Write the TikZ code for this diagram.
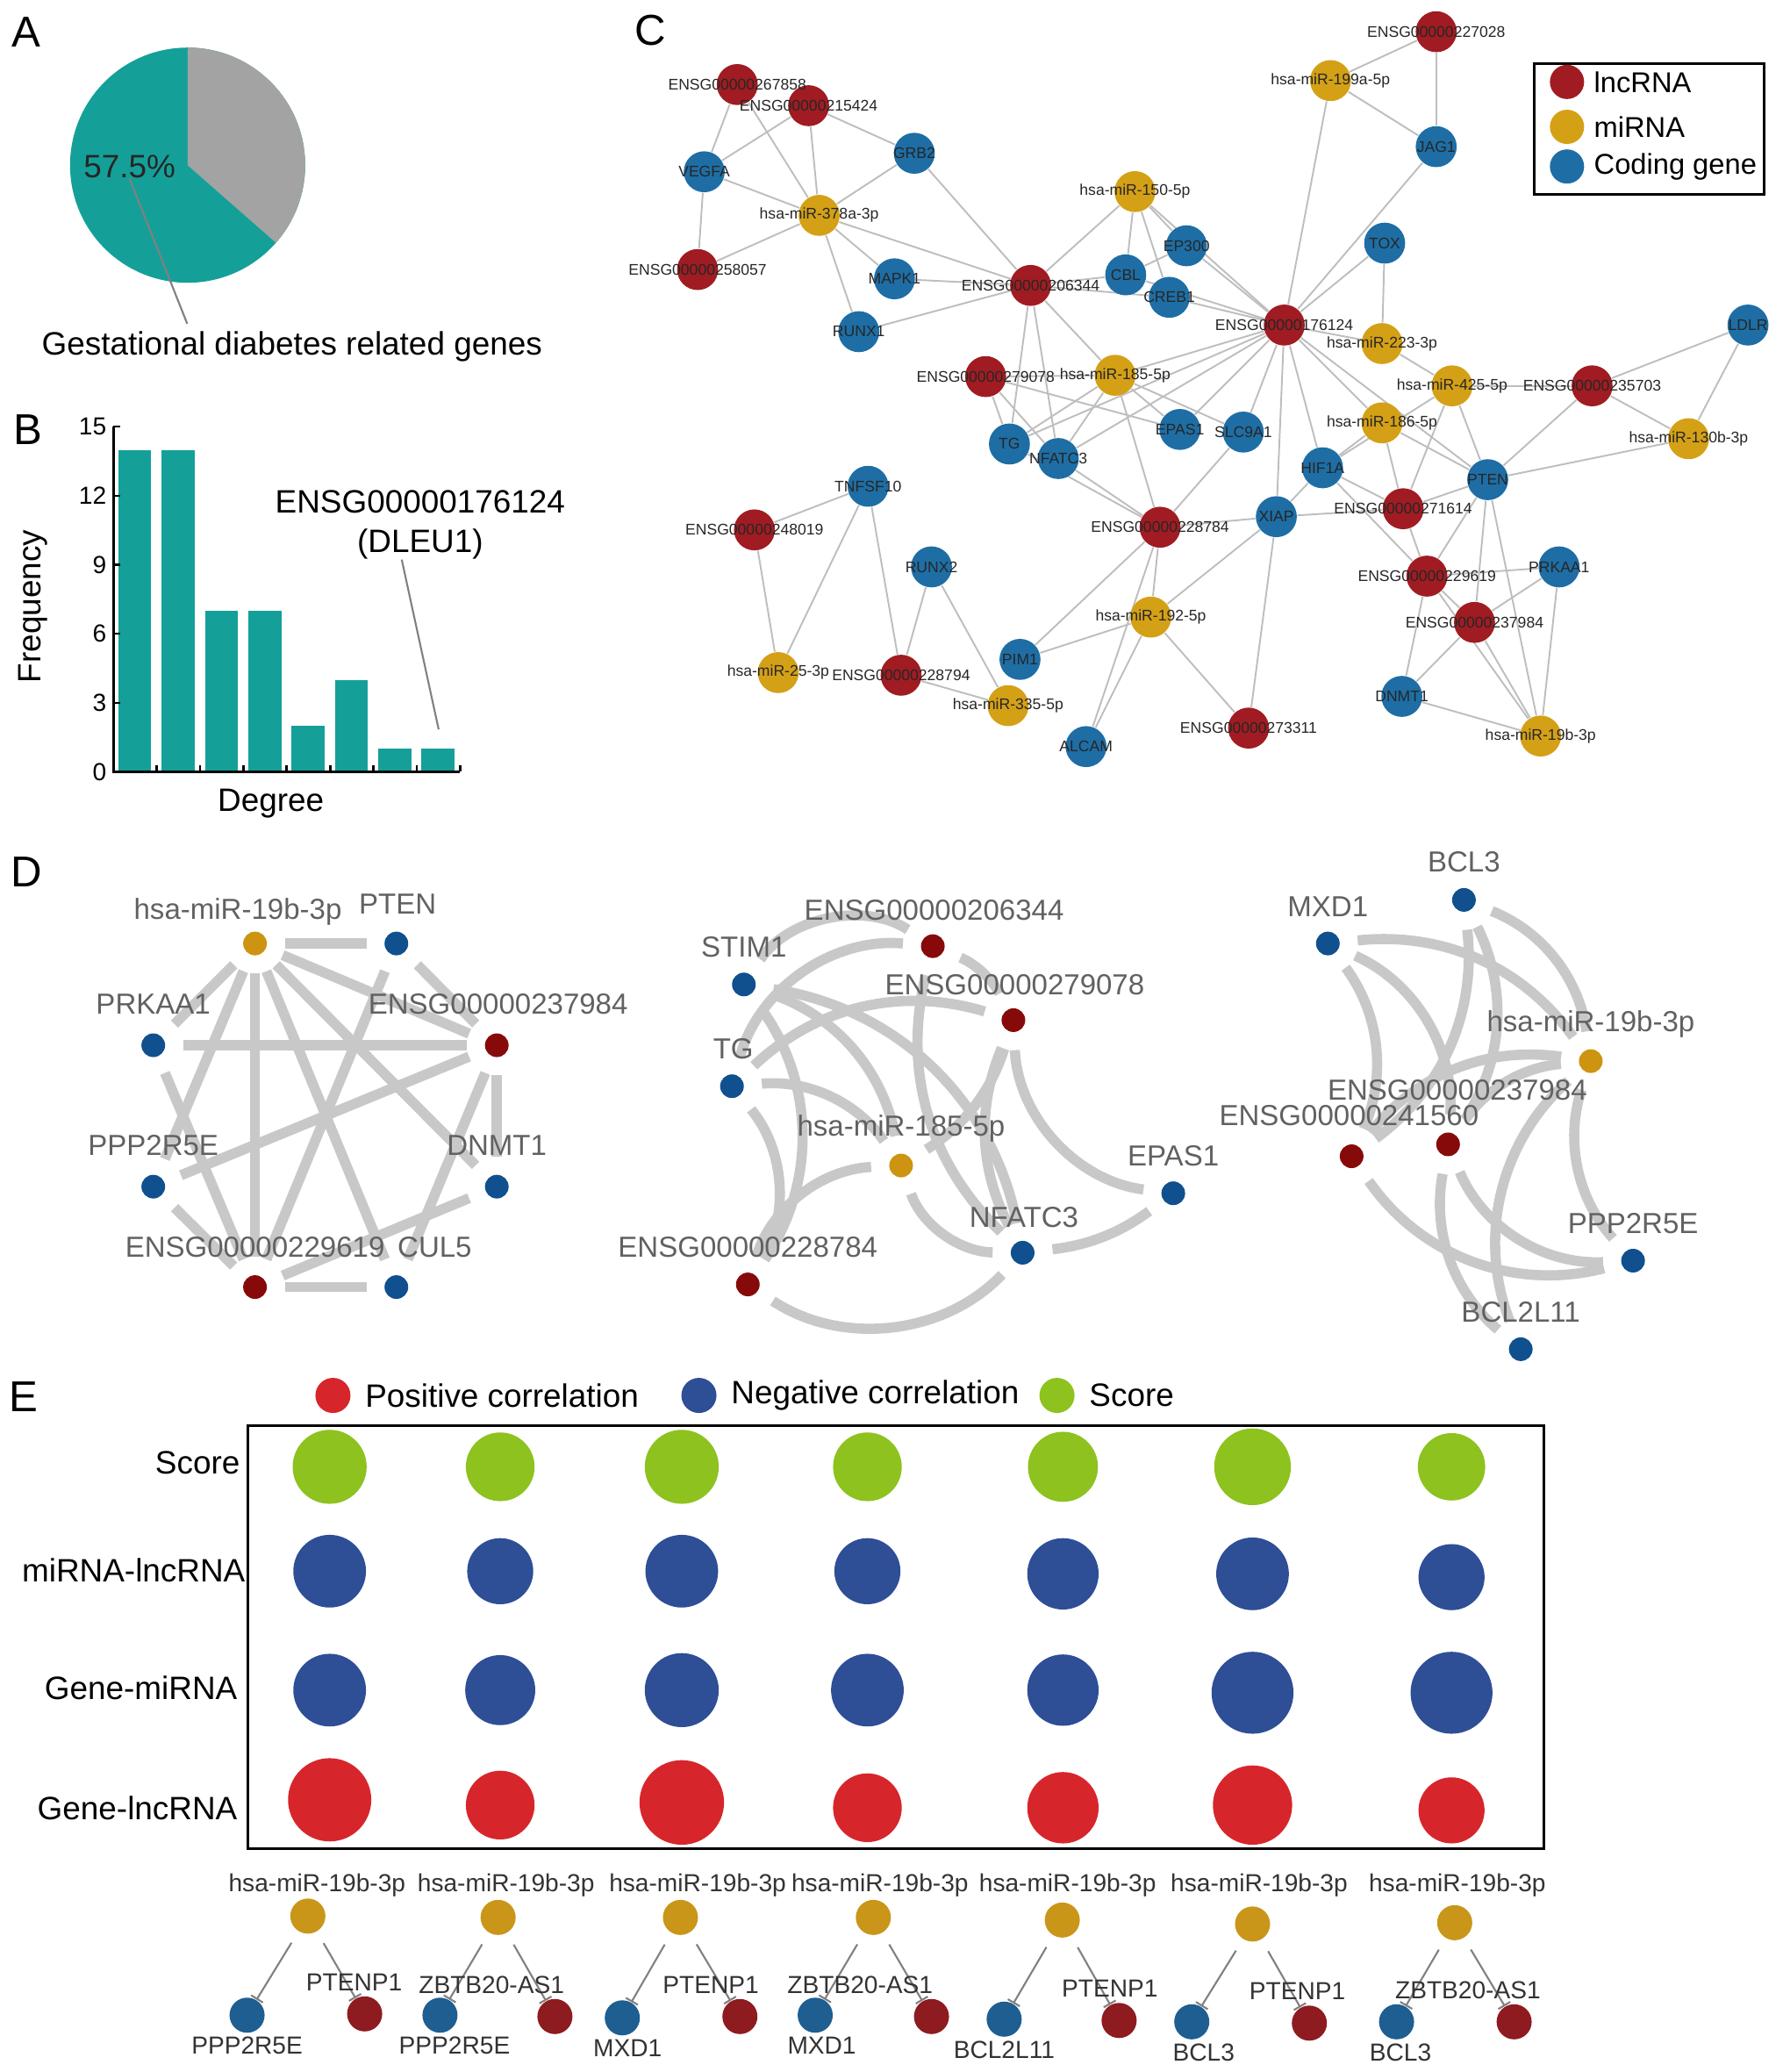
\documentclass[tikz,border=0pt]{standalone}
\usepackage{fontspec}
\setmainfont{Liberation Sans}
\usetikzlibrary{arrows.meta,backgrounds}

\definecolor{tealbar}{HTML}{14A098}
\definecolor{pieGray}{HTML}{A3A3A3}
\definecolor{lncRed}{HTML}{A01C22}
\definecolor{mirGold}{HTML}{D4A016}
\definecolor{geneBlue}{HTML}{1E6EA5}
\definecolor{edgeGray}{HTML}{BEBEBE}
\definecolor{dRed}{HTML}{870A0A}
\definecolor{dGold}{HTML}{CC9410}
\definecolor{dBlue}{HTML}{10508E}
\definecolor{dEdge}{HTML}{C8C8C8}
\definecolor{posRed}{HTML}{D7262B}
\definecolor{negBlue}{HTML}{2E4E96}
\definecolor{scoreGreen}{HTML}{8DC21F}
\definecolor{eGold}{HTML}{C9961A}
\definecolor{eBlue}{HTML}{1E5E91}
\definecolor{eRed}{HTML}{8E1B1F}

\tikzset{
  panel/.style={font=\fontsize{14}{16}\selectfont, inner sep=0pt},
  txt/.style={font=\fontsize{10.5}{12.8}\selectfont, inner sep=0pt},
  ticklab/.style={font=\fontsize{8}{9.6}\selectfont, inner sep=0pt, anchor=east},
  cnode/.style={circle, inner sep=0pt, minimum size=0.467cm},
  clnc/.style={cnode, fill=lncRed},
  cmir/.style={cnode, fill=mirGold},
  cgene/.style={cnode, fill=geneBlue},
  clab/.style={font=\fontsize{5}{6}\selectfont, text=black!85, inner sep=0pt},
  cedge/.style={draw=edgeGray, line width=0.55pt},
  legtxt/.style={font=\fontsize{9.3}{11}\selectfont, anchor=west, inner sep=0pt},
  dnode/.style={circle, inner sep=0pt, minimum size=0.27cm},
  dlnc/.style={dnode, fill=dRed},
  dmir/.style={dnode, fill=dGold},
  dgene/.style={dnode, fill=dBlue},
  dlab/.style={font=\fontsize{9.4}{11}\selectfont, text=black!62, inner sep=0pt},
  dedge/.style={draw=dEdge, line width=3.3pt, shorten <=0.2cm, shorten >=0.2cm},
  enode/.style={circle, inner sep=0pt, minimum size=0.4cm},
  elnc/.style={enode, fill=eRed},
  emir/.style={enode, fill=eGold},
  egene/.style={enode, fill=eBlue},
  elab/.style={font=\fontsize{8}{9.6}\selectfont, text=black!80, inner sep=0pt},
  inhib/.style={draw=black!50, line width=0.6pt, -{Bar[width=4.5pt]}, shorten <=0.15cm},
}

\def\cnodes{
e227028/1087/24/clnc/ENSG00000227028,
e267858/558/64/clnc/ENSG00000267858,
e215424/612/80/clnc/ENSG00000215424,
e258057/528/204/clnc/ENSG00000258057,
e206344/780/216/clnc/ENSG00000206344,
e176124/972/246/clnc/ENSG00000176124,
e235703/1205/292/clnc/ENSG00000235703,
e279078/746/285/clnc/ENSG00000279078,
e271614/1062/385/clnc/ENSG00000271614,
e228784/878/399/clnc/ENSG00000228784,
e248019/571/401/clnc/ENSG00000248019,
e229619/1080/436/clnc/ENSG00000229619,
e237984/1116/471/clnc/ENSG00000237984,
e228794/682/511/clnc/ENSG00000228794,
e273311/945/551/clnc/ENSG00000273311,
m199a/1007/61/cmir/hsa-miR-199a-5p,
m378a/620/163/cmir/hsa-miR-378a-3p,
m150/859/145/cmir/hsa-miR-150-5p,
m223/1046/260/cmir/hsa-miR-223-3p,
m425/1099/292/cmir/hsa-miR-425-5p,
m130b/1278/332/cmir/hsa-miR-130b-3p,
m185/844/284/cmir/hsa-miR-185-5p,
m186/1046/320/cmir/hsa-miR-186-5p,
m192/871/467/cmir/hsa-miR-192-5p,
m25/589/509/cmir/hsa-miR-25-3p,
m335/763/534/cmir/hsa-miR-335-5p,
m19b/1166/557/cmir/hsa-miR-19b-3p,
JAG1/1087/111/cgene/JAG1,
VEGFA/533/130/cgene/VEGFA,
GRB2/692/116/cgene/GRB2,
MAPK1/677/211/cgene/MAPK1,
RUNX1/650/251/cgene/RUNX1,
EP300/898/186/cgene/EP300,
CBL/852/208/cgene/CBL,
CREB1/885/225/cgene/CREB1,
TOX/1048/184/cgene/TOX,
LDLR/1323/246/cgene/LDLR,
TG/764/336/cgene/TG,
NFATC3/801/347/cgene/NFATC3,
EPAS1/893/325/cgene/EPAS1,
SLC9A1/941/327/cgene/SLC9A1,
HIF1A/1001/354/cgene/HIF1A,
PTEN/1126/363/cgene/PTEN,
XIAP/966/391/cgene/XIAP,
TNFSF10/657/368/cgene/TNFSF10,
RUNX2/705/429/cgene/RUNX2,
PRKAA1/1180/429/cgene/PRKAA1,
PIM1/772/499/cgene/PIM1,
ALCAM/822/565/cgene/ALCAM,
DNMT1/1061/527/cgene/DNMT1}

\begin{document}
\begin{tikzpicture}[x=0.015056cm, y=-0.015056cm]
  \useasboundingbox (0,0) rectangle (1349,1568);

  % A
  \node[panel] (A) at (20,24) {A};
  \fill[tealbar] (142,125) circle[radius=1.34cm];
  \fill[pieGray] (142,125) -- ++(90:1.34cm) arc[start angle=90, end angle=-41.3, radius=1.34cm] -- cycle;
  \node[txt, text=black!85] (pct) at (98,126) {57.5\%};
  \node[txt] (gdm) at (221,262) {Gestational diabetes related genes};
  \coordinate (gdmtip) at (141.7,245);
  \draw[black!50, line width=0.6pt] (pct.south) -- (gdmtip);

  % B
  \node[panel] (B) at (21,325) {B};
  \foreach \h [count=\i] in {14,14,7,7,2,4,1,1}
    \fill[tealbar] ({89.5+32.8*(\i-1)},584) rectangle ++(25,{-17.4*\h});
  \foreach \v in {0,3,6,9,12,15} {
    \draw[line width=0.6pt] (86,{584-17.4*\v}) -- ++(5,0);
    \node[ticklab] (yt\v) at (81,{584-17.4*\v}) {\v};
  }
  \foreach \i in {0,...,7}
    \draw[line width=0.8pt] ({118.6+32.8*\i},584) -- ++(0,-5);
  \draw[line width=0.8pt] (86,323) -- (86,584) -- (348,584);
  \node[txt, rotate=90] (freq) at (25,459) {Frequency};
  \node[txt] (deg) at (205,608) {Degree};
  \node[txt, align=center] (dleu) at (318,397) {ENSG00000176124\\(DLEU1)};
  \coordinate (dleutip) at (332,552);
  \draw[black!50, line width=0.6pt] ([xshift=-0.21cm]dleu.south) -- (dleutip);

  % C
  \node[panel] (C) at (492,23) {C};
  \foreach \nn/\px/\py/\ty/\tx in \cnodes
    \node[\ty] (\nn) at (\px,\py) {};
  \foreach \nn/\px/\py/\ty/\tx in \cnodes
    \node[clab] (l\nn) at (\nn) {\tx};
  \begin{scope}[on background layer={every path/.style=cedge}]
    \draw (e267858) to (VEGFA);
    \draw (e267858) to (m378a);
    \draw (e215424) to (VEGFA);
    \draw (e215424) to (m378a);
    \draw (e215424) to (GRB2);
    \draw (VEGFA) to (m378a);
    \draw (VEGFA) to (e258057);
    \draw (GRB2) to (m378a);
    \draw (GRB2) to (e206344);
    \draw (m378a) to (e258057);
    \draw (m378a) to (MAPK1);
    \draw (m378a) to (RUNX1);
    \draw (m378a) to (e206344);
    \draw (MAPK1) to (e206344);
    \draw (RUNX1) to (e206344);
    \draw (m150) to (e206344);
    \draw (m150) to (CBL);
    \draw (m150) to (CREB1);
    \draw (m150) to (EP300);
    \draw (m150) to (e176124);
    \draw (e206344) to (CBL);
    \draw (CBL) to (EP300);
    \draw (e206344) to (CREB1);
    \draw (CBL) to (e176124);
    \draw (CREB1) to (e176124);
    \draw (EP300) to (e176124);
    \draw (e206344) to (m185);
    \draw (e206344) to (TG);
    \draw (e206344) to (NFATC3);
    \draw (e176124) to (TOX);
    \draw (e176124) to (JAG1);
    \draw (e176124) to (m199a);
    \draw (e176124) to (m223);
    \draw (e176124) to (m185);
    \draw (e176124) to (TG);
    \draw (e176124) to (NFATC3);
    \draw (e176124) to (EPAS1);
    \draw (e176124) to (SLC9A1);
    \draw (e176124) to (XIAP);
    \draw (e176124) to (HIF1A);
    \draw (e176124) to (m186);
    \draw (e176124) to (PTEN);
    \draw (e279078) to (m185);
    \draw (e279078) to (TG);
    \draw (e279078) to (NFATC3);
    \draw (e279078) to (EPAS1);
    \draw (m185) to (TG);
    \draw (m185) to (NFATC3);
    \draw (m185) to (e228784);
    \draw (m185) to (EPAS1);
    \draw (m185) to (SLC9A1);
    \draw (TG) to (e228784);
    \draw (NFATC3) to (e228784);
    \draw (e228784) to (SLC9A1);
    \draw (e228784) to (XIAP);
    \draw (e228784) to (m192);
    \draw (e228784) to (PIM1);
    \draw (e228784) to (ALCAM);
    \draw (XIAP) to (HIF1A);
    \draw (XIAP) to (e271614);
    \draw (XIAP) to (e273311);
    \draw (XIAP) to (m192);
    \draw (HIF1A) to (m186);
    \draw (HIF1A) to (m425);
    \draw (HIF1A) to (e229619);
    \draw (HIF1A) to (e271614);
    \draw (m186) to (e271614);
    \draw (m186) to (PTEN);
    \draw (m223) to (TOX);
    \draw (m223) to (m425);
    \draw (m425) to (e235703);
    \draw (m425) to (PTEN);
    \draw (m425) to (e271614);
    \draw (e235703) to (LDLR);
    \draw (e235703) to (m130b);
    \draw (e235703) to (PTEN);
    \draw (LDLR) to (m130b);
    \draw (PTEN) to (m130b);
    \draw (PTEN) to (e271614);
    \draw (PTEN) to (e229619);
    \draw (PTEN) to (e237984);
    \draw (PTEN) to (m19b);
    \draw (e271614) to (e229619);
    \draw (e229619) to (PRKAA1);
    \draw (e229619) to (e237984);
    \draw (e229619) to (DNMT1);
    \draw (e229619) to (m19b);
    \draw (e237984) to (PRKAA1);
    \draw (e237984) to (DNMT1);
    \draw (e237984) to (m19b);
    \draw (PRKAA1) to (m19b);
    \draw (DNMT1) to (m19b);
    \draw (e273311) to (m192);
    \draw (m192) to (PIM1);
    \draw (m192) to (ALCAM);
    \draw (m335) to (e228794);
    \draw (m335) to (RUNX2);
    \draw (e228794) to (RUNX2);
    \draw (e228794) to (TNFSF10);
    \draw (TNFSF10) to (e248019);
    \draw (TNFSF10) to (m25);
    \draw (e248019) to (m25);
    \draw (m199a) to (e227028);
    \draw (m199a) to (JAG1);
    \draw (e227028) to (JAG1);
  \end{scope}
  \draw[line width=0.8pt] (1161,48) rectangle (1335,147);
  \node[circle, inner sep=0pt, minimum size=0.39cm, fill=lncRed] (keylnc) at (1186,62) {};
  \node[circle, inner sep=0pt, minimum size=0.39cm, fill=mirGold] (keymir) at (1186,96) {};
  \node[circle, inner sep=0pt, minimum size=0.39cm, fill=geneBlue] (keygene) at (1186,126) {};
  \node[legtxt] (keylnct) at (1206,62) {lncRNA};
  \node[legtxt] (keymirt) at (1206,96) {miRNA};
  \node[legtxt] (keygenet) at (1206,126) {Coding gene};

  % D
  \node[panel] (D) at (20,660) {D};
  \node[dmir] (d1mir) at (193,714) {};
  \node[dgene] (d1PTEN) at (300,714) {};
  \node[dlnc] (d1e237984) at (376,791) {};
  \node[dgene] (d1DNMT1) at (376,898) {};
  \node[dgene] (d1CUL5) at (300,974) {};
  \node[dlnc] (d1e229619) at (193,974) {};
  \node[dgene] (d1PPP2R5E) at (116,898) {};
  \node[dgene] (d1PRKAA1) at (116,791) {};
  \node[dlab] (d1mirl) at (180,690) {hsa-miR-19b-3p};
  \node[dlab] (d1PTENl) at (301,684) {PTEN};
  \node[dlab] (d1e237984l) at (377,760) {ENSG00000237984};
  \node[dlab] (d1DNMT1l) at (376,867) {DNMT1};
  \node[dlab] (d1CUL5l) at (329,944) {CUL5};
  \node[dlab] (d1e229619l) at (193,944) {ENSG00000229619};
  \node[dlab] (d1PPP2R5El) at (116,867) {PPP2R5E};
  \node[dlab] (d1PRKAA1l) at (116,760) {PRKAA1};

  \node[dgene] (d2STIM1) at (563,745) {};
  \node[dlnc] (d2e206344) at (706,716) {};
  \node[dlnc] (d2e279078) at (767,772) {};
  \node[dgene] (d2TG) at (554,822) {};
  \node[dmir] (d2mir) at (682,882) {};
  \node[dgene] (d2EPAS1) at (888,903) {};
  \node[dgene] (d2NFATC3) at (774,948) {};
  \node[dlnc] (d2e228784) at (566,972) {};
  \node[dlab] (d2STIM1l) at (563,717) {STIM1};
  \node[dlab] (d2e206344l) at (707,689) {ENSG00000206344};
  \node[dlab] (d2e279078l) at (768,745) {ENSG00000279078};
  \node[dlab] (d2TGl) at (555,794) {TG};
  \node[dlab] (d2mirl) at (682,854) {hsa-miR-185-5p};
  \node[dlab] (d2EPAS1l) at (888,875) {EPAS1};
  \node[dlab] (d2NFATC3l) at (775,921) {NFATC3};
  \node[dlab] (d2e228784l) at (566,944) {ENSG00000228784};

  \node[dgene] (d3BCL3) at (1108,681) {};
  \node[dgene] (d3MXD1) at (1005,714) {};
  \node[dmir] (d3mir) at (1204,803) {};
  \node[dlnc] (d3e237984) at (1096,866) {};
  \node[dlnc] (d3e241560) at (1023,875) {};
  \node[dgene] (d3PPP2R5E) at (1236,954) {};
  \node[dgene] (d3BCL2L11) at (1151,1021) {};
  \node[dlab] (d3BCL3l) at (1108,652) {BCL3};
  \node[dlab] (d3MXD1l) at (1005,686) {MXD1};
  \node[dlab] (d3mirl) at (1204,775) {hsa-miR-19b-3p};
  \node[dlab] (d3e237984l) at (1103,825) {ENSG00000237984};
  \node[dlab] (d3e241560l) at (1021,844) {ENSG00000241560};
  \node[dlab] (d3PPP2R5El) at (1236,926) {PPP2R5E};
  \node[dlab] (d3BCL2L11l) at (1151,993) {BCL2L11};

  \begin{scope}[on background layer]
    \draw[dedge] (d1mir) -- (d1PTEN);
    \draw[dedge] (d1mir) -- (d1PRKAA1);
    \draw[dedge] (d1mir) -- (d1PPP2R5E);
    \draw[dedge] (d1mir) -- (d1e229619);
    \draw[dedge] (d1mir) -- (d1CUL5);
    \draw[dedge] (d1mir) -- (d1DNMT1);
    \draw[dedge] (d1mir) -- (d1e237984);
    \draw[dedge] (d1PRKAA1) -- (d1e237984);
    \draw[dedge] (d1PRKAA1) -- (d1e229619);
    \draw[dedge] (d1PPP2R5E) -- (d1e237984);
    \draw[dedge] (d1PPP2R5E) -- (d1e229619);
    \draw[dedge] (d1PTEN) -- (d1e237984);
    \draw[dedge] (d1PTEN) -- (d1e229619);
    \draw[dedge] (d1e237984) -- (d1DNMT1);
    \draw[dedge] (d1e237984) -- (d1CUL5);
    \draw[dedge] (d1DNMT1) -- (d1e229619);
    \draw[dedge] (d1e229619) -- (d1CUL5);

    \draw[dedge] (d2STIM1) to[bend left=45] (d2e206344);
    \draw[dedge] (d2TG) to[bend left=40] (d2e206344);
    \draw[dedge] (d2TG) to[bend left=30] (d2e279078);
    \draw[dedge] (d2STIM1) to[bend left=30] (d2mir);
    \draw[dedge] (d2STIM1) to[bend left=35] (d2NFATC3);
    \draw[dedge] (d2STIM1) to[bend left=35] (d2e228784);
    \draw[dedge] (d2TG) to[bend left=30] (d2mir);
    \draw[dedge] (d2TG) to[bend left=35] (d2e228784);
    \draw[dedge] (d2mir) to[bend right=35] (d2e228784);
    \draw[dedge] (d2mir) to[bend right=35] (d2NFATC3);
    \draw[dedge] (d2e206344) to[bend right=30] (d2NFATC3);
    \draw[dedge] (d2e279078) to[bend right=25] (d2NFATC3);
    \draw[dedge] (d2e279078) to[bend left=20] (d2mir);
    \draw[dedge] (d2e279078) to[bend right=40] (d2EPAS1);
    \draw[dedge] (d2NFATC3) to[bend right=15] (d2EPAS1);
    \draw[dedge] (d2e228784) to[bend right=40] (d2NFATC3);
    \draw[dedge] (d2e206344) to[bend left=20] (d2e279078);

    \draw[dedge] (d3MXD1) to[bend left=30] (d3mir);
    \draw[dedge] (d3BCL3) to[bend left=30] (d3mir);
    \draw[dedge] (d3MXD1) to[bend left=30] (d3e241560);
    \draw[dedge] (d3MXD1) to[bend left=35] (d3e237984);
    \draw[dedge] (d3BCL3) to[bend left=30] (d3e241560);
    \draw[dedge] (d3BCL3) to[bend left=30] (d3e237984);
    \draw[dedge] (d3mir) to[bend right=30] (d3e241560);
    \draw[dedge] (d3mir) to[bend right=25] (d3e237984);
    \draw[dedge] (d3mir) to[bend right=30] (d3PPP2R5E);
    \draw[dedge] (d3mir) to[bend right=35] (d3BCL2L11);
    \draw[dedge] (d3e241560) to[bend right=35] (d3PPP2R5E);
    \draw[dedge] (d3e237984) to[bend right=35] (d3PPP2R5E);
    \draw[dedge] (d3e237984) to[bend right=30] (d3BCL2L11);
  \end{scope}

  % E
  \node[panel] (E) at (18,1057) {E};
  \node[circle, inner sep=0pt, minimum size=0.4cm, fill=posRed] (keypos) at (252,1056) {};
  \node[circle, inner sep=0pt, minimum size=0.4cm, fill=negBlue] (keyneg) at (529,1056) {};
  \node[circle, inner sep=0pt, minimum size=0.4cm, fill=scoreGreen] (keysc) at (800,1056) {};
  \node[txt, anchor=west] (keypost) at (276,1056) {Positive correlation};
  \node[txt, anchor=west] (keynegt) at (553,1056) {Negative correlation};
  \node[txt, anchor=west] (keysct) at (824,1056) {Score};
  \draw[line width=1pt] (187.5,1079) rectangle (1168.4,1399);
  \node[txt, anchor=east] (rowsc) at (182,1107) {Score};
  \node[txt, anchor=east] (rowml) at (186,1188) {miRNA-lncRNA};
  \node[txt, anchor=east] (rowgm) at (180,1277) {Gene-miRNA};
  \node[txt, anchor=east] (rowgl) at (180,1368) {Gene-lncRNA};
  \foreach \px/\py/\r in {249.5/1110/28, 378.6/1110/26, 516/1110/28, 656.5/1110/26, 804.5/1110/26.5, 948/1110/29, 1098.6/1110/25.5}
    \fill[scoreGreen] (\px,\py) circle[radius=\r*0.015056cm];
  \foreach \px/\py/\r in {249.5/1189/27.5, 378.6/1189/25, 516/1189/27.5, 656.5/1189/25, 804.5/1191/27, 948/1191/27.5, 1098.6/1193.5/25,
      249.5/1279/27.5, 378.6/1279/26.5, 516/1279/28, 656.5/1279/27.5, 804.5/1279/27, 948/1281/31, 1098.6/1281/31}
    \fill[negBlue] (\px,\py) circle[radius=\r*0.015056cm];
  \foreach \px/\py/\r in {249.5/1362/31.5, 378.6/1366/26, 516/1364/32, 656.5/1368/26, 804.5/1368/27, 948/1366/30, 1098.6/1370/25}
    \fill[posRed] (\px,\py) circle[radius=\r*0.015056cm];

  \foreach \i/\mx/\my/\tx/\bx/\by/\bl/\bt/\rx/\ry/\rl/\rt in {
      1/233/1450/240/187/1525/187/PPP2R5E/276/1524/268/PTENP1,
      2/377/1451/383/333/1525/344/PPP2R5E/420/1526/372/ZBTB20-AS1,
      3/515/1451/528/471/1527/475/MXD1/560/1526/538/PTENP1,
      4/661/1451/666/617/1525/622/MXD1/705/1526/651/ZBTB20-AS1,
      5/804/1453/808/760/1528/760/BCL2L11/847/1529/840/PTENP1,
      6/948/1456/953/902/1530/911/BCL3/991/1531/982/PTENP1,
      7/1101/1455/1103/1057/1530/1060/BCL3/1146/1530/1111/ZBTB20-AS1} {
    \node[emir] (mir\i) at (\mx,\my) {};
    \node[egene] (blue\i) at (\bx,\by) {};
    \node[elnc] (red\i) at (\rx,\ry) {};
    \node[elab] (mirl\i) at (\tx,1427) {hsa-miR-19b-3p};
    \node[elab] (bluel\i) at (\bl,{\by+23}) {\bt};
    \node[elab] (redl\i) at (\rl,{\ry-24}) {\rt};
  }
  \begin{scope}[on background layer]
    \foreach \i in {1,...,7} {
      \draw[inhib] (mir\i) -- (blue\i);
      \draw[inhib] (mir\i) -- (red\i);
    }
  \end{scope}
\end{tikzpicture}
\end{document}
